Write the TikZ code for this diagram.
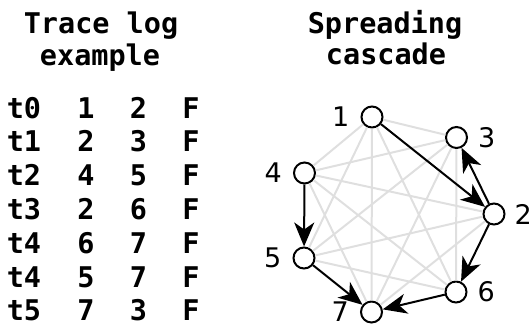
\documentclass[tikz,border=0pt]{standalone}
\usepackage{fontspec}
\usetikzlibrary{arrows.meta}
\newfontfamily\logfont{DejaVu Sans Mono}
\newfontfamily\labelfont{DejaVu Sans}

\tikzset{
  logtext/.style={font=\logfont\bfseries\fontsize{28.5}{34}\selectfont, inner sep=0pt, anchor=base},
  vertex/.style={circle, draw, line width=2pt, fill=white, minimum size=21pt, inner sep=0pt},
  lbl/.style={font=\labelfont\fontsize{27}{32}\selectfont, inner sep=0pt},
  link/.style={line width=2pt, gray!25},
  spread/.style={line width=2pt, -{Stealth[length=24pt,width=20pt,inset=7pt]}},
}

\begin{document}
\begin{tikzpicture}[x=1pt, y=-1pt]
            \useasboundingbox (0,0) rectangle (532,327);
            % trace log
            \node[logtext] (logtop) at (101,33) {Trace log};
            \node[logtext] (logbot) at (100,65) {example};
            \foreach \t/\a/\b [count=\i from 0] in {t0/1/2, t1/2/3, t2/4/5, t3/2/6, t4/6/7, t4/5/7, t5/7/3} {
                \node[logtext] (time\i) at (24,118+33.8*\i) {\t};
                \node[logtext] (src\i) at (86,118+33.8*\i) {\a};
                \node[logtext] (dst\i) at (138.5,118+33.8*\i) {\b};
                \node[logtext] (flag\i) at (191,118+33.8*\i) {F};
            }
            % cascade
            \node[logtext] (cascadetop) at (385,33) {Spreading};
            \node[logtext] (cascadebot) at (386,64) {cascade};
            \node[vertex, label={[lbl, label distance=11pt]left:1}] (n1) at (372,117) {};
            \node[vertex, label={[lbl, label distance=9pt]right:2}] (n2) at (494,214) {};
            \node[vertex, label={[lbl, label distance=10pt]right:3}] (n3) at (456.5,137.5) {};
            \node[vertex, label={[lbl, label distance=11pt]left:4}] (n4) at (304.5,173) {};
            \node[vertex, label={[lbl, label distance=11pt]left:5}] (n5) at (304,258) {};
            \node[vertex, label={[lbl, label distance=10pt]right:6}] (n6) at (456,292) {};
            \node[vertex, label={[lbl, label distance=11pt]left:7}] (n7) at (371.5,312) {};
            \foreach \u/\v in {1/3, 1/4, 1/5, 1/6, 1/7, 2/4, 2/5, 2/7, 3/4, 3/5, 3/6, 3/7, 4/6, 4/7, 5/6}
                \draw[link] (n\u) -- (n\v);
            \draw[spread] (n1) -- (n2);
            \draw[spread] (n2) -- (n3);
            \draw[spread] (n4) -- (n5);
            \draw[spread] (n2) -- (n6);
            \draw[spread] (n6) -- (n7);
            \draw[spread] (n5) -- (n7);
\end{tikzpicture}
\end{document}
